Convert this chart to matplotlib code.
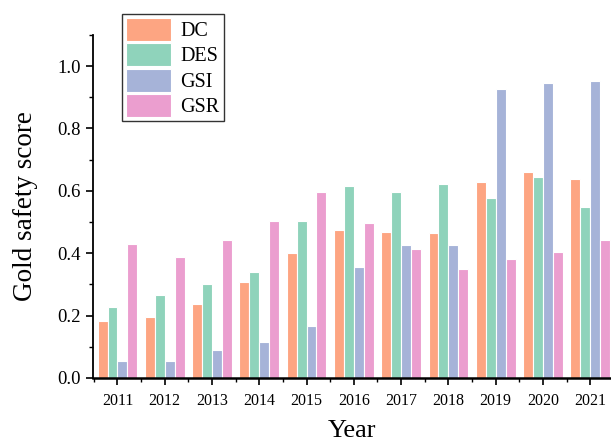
import matplotlib.pyplot as plt
import numpy as np
from matplotlib.ticker import MultipleLocator

years = [2011, 2012, 2013, 2014, 2015, 2016, 2017, 2018, 2019, 2020, 2021]
dc = [0.183, 0.195, 0.238, 0.307, 0.401, 0.475, 0.469, 0.466, 0.629, 0.660, 0.639]
des = [0.229, 0.265, 0.302, 0.340, 0.502, 0.616, 0.597, 0.622, 0.578, 0.645, 0.548]
gsi = [0.055, 0.055, 0.089, 0.116, 0.168, 0.357, 0.427, 0.427, 0.926, 0.946, 0.953]
gsr = [0.429, 0.389, 0.443, 0.502, 0.597, 0.498, 0.412, 0.348, 0.381, 0.405, 0.443]

series = [("DC", dc, "#FDA582"), ("DES", des, "#8FD3BB"),
          ("GSI", gsi, "#A6B3D8"), ("GSR", gsr, "#EB9ECF")]

plt.rcParams['font.family'] = ['Liberation Serif', 'DejaVu Serif']

fig = plt.figure(figsize=(6.11, 4.41), dpi=100)
ax = fig.add_axes([0.152, 0.143, 0.848, 0.778])

x = np.array(years, dtype=float)
w = 0.21
for i, (name, vals, col) in enumerate(series):
    ax.bar(x + (i - 1.5) * w, vals, width=w, color=col, edgecolor='white',
           linewidth=0.8, label=name)

ax.set_xlim(2010.48, 2021.44)
ax.set_ylim(0, 1.1)
ax.set_xticks(years)
ax.set_xticklabels([str(y) for y in years])
ax.xaxis.set_minor_locator(MultipleLocator(0.5))
ax.yaxis.set_major_locator(MultipleLocator(0.2))
ax.yaxis.set_minor_locator(MultipleLocator(0.1))
ax.yaxis.set_major_formatter(plt.FormatStrFormatter('%.1f'))

for s in ['top', 'right']:
    ax.spines[s].set_visible(False)
ax.spines['left'].set_linewidth(1.3)
ax.spines['bottom'].set_linewidth(1.8)
ax.tick_params(axis='both', which='major', direction='out', length=5, width=1.2)
ax.tick_params(axis='both', which='minor', direction='out', length=3, width=1.0)
ax.tick_params(axis='x', labelsize=11.5, pad=6)
ax.tick_params(axis='y', labelsize=13.5)

ax.set_xlabel("Year", fontsize=19, labelpad=8)
ax.set_ylabel("Gold safety score", fontsize=19.5, labelpad=14)

leg = ax.legend(loc='upper left', bbox_to_anchor=(122 / 611, 1 - 14 / 441),
                bbox_transform=fig.transFigure, fontsize=14.5, frameon=True,
                fancybox=False, edgecolor='black', handlelength=2.25,
                handleheight=1.35, handletextpad=0.45, labelspacing=0.12,
                borderpad=0.2, borderaxespad=0)
leg.get_frame().set_linewidth(1.0)

fig.savefig("out.png", dpi=100)
